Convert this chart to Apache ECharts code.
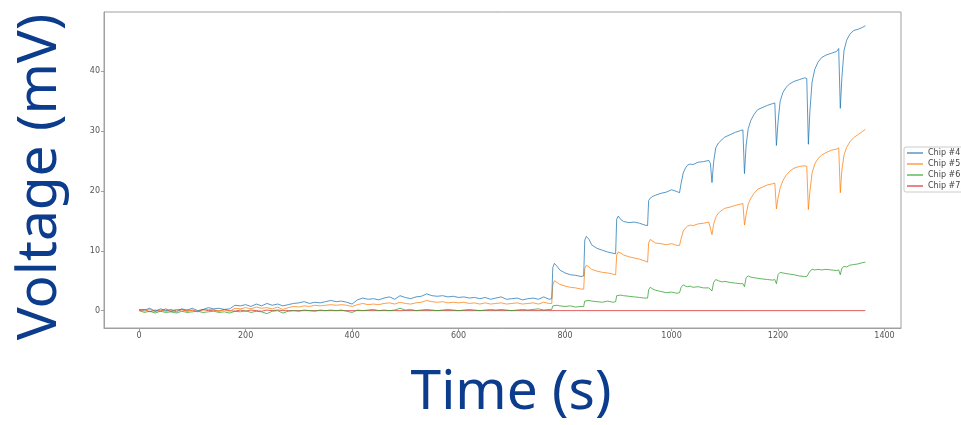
<!DOCTYPE html>
<html>
<head>
<meta charset="utf-8">
<script src="https://cdn.jsdelivr.net/npm/echarts@6/dist/echarts.min.js"></script>
<style>
html,body{margin:0;padding:0;background:#fff;}
#chart{width:961px;height:425px;}
</style>
</head>
<body>
<div id="chart"></div>
<script>
// Time (s) shared by chips #4, #5, #6
const times = [
  0,10,20,30,40,50,60,70,80,90,
  100,110,120,130,140,150,160,170,180,190,
  200,210,220,230,240,250,260,270,280,290,
  300,310,320,330,340,350,360,370,380,390,
  400,410,420,430,440,450,460,470,480,490,
  500,510,520,530,540,550,560,570,580,590,
  600,610,620,630,640,650,660,670,680,690,
  700,710,720,730,740,750,760,770,
  775,777,780,785,790,800,810,820,830,835,
  837,840,845,850,860,870,880,890,895,
  897,900,905,910,920,930,940,950,955,
  957,960,965,970,980,990,1000,1010,1015,
  1018,1022,1026,1030,1035,1040,1050,1060,1070,1073,
  1076,1079,1083,1088,1095,1100,1110,1120,1130,1134,
  1137,1140,1144,1149,1155,1162,1170,1180,1190,1194,
  1197,1200,1204,1209,1215,1222,1230,1240,1250,1254,
  1257,1260,1264,1269,1275,1282,1290,1300,1310,1314,
  1317,1320,1324,1329,1335,1342,1350,1358,1364
];
const chip4 = [
  0.2,0.1,0.4,-0.1,0.3,0.0,0.2,-0.2,0.3,0.1,
  0.4,0.0,0.2,0.5,0.3,0.4,0.2,0.3,0.9,0.8,
  1.0,0.7,1.1,0.8,1.2,0.9,1.1,0.8,1.0,1.2,
  1.3,1.5,1.2,1.4,1.3,1.5,1.7,1.5,1.6,1.4,
  1.1,1.8,2.1,1.9,2.0,1.8,2.1,2.3,1.9,2.5,
  2.2,2.0,2.3,2.4,2.8,2.5,2.4,2.5,2.3,2.4,
  2.2,2.3,2.1,2.2,2.0,2.2,1.9,2.1,2.3,1.9,
  2.0,2.1,1.8,2.0,2.1,1.9,2.3,1.9,
  2.0,7.2,7.9,7.4,6.8,6.3,6.0,5.9,5.7,5.8,
  11.8,12.4,11.9,11.0,10.4,10.1,9.8,9.6,9.5,
  15.3,15.8,15.2,14.9,14.7,14.8,14.6,14.3,14.2,
  18.4,18.8,19.1,19.3,19.6,19.8,20.2,19.9,19.7,
  21.3,23.0,23.8,24.3,24.5,24.4,24.8,24.9,25.1,24.6,
  21.4,24.8,27.2,28.0,28.6,29.0,29.4,29.8,30.1,30.2,
  22.9,27.5,30.4,31.8,32.8,33.6,33.9,34.3,34.6,34.7,
  27.6,31.5,35.0,36.4,37.3,37.9,38.3,38.6,38.9,38.8,
  27.8,33.5,38.2,40.3,41.5,42.3,42.7,43.0,43.3,43.8,
  33.8,39.0,43.5,45.2,46.2,46.8,47.0,47.3,47.6
];
const chip5 = [
  0.1,-0.1,0.2,-0.2,0.1,-0.1,0.0,0.2,-0.1,0.1,
  0.0,-0.1,0.1,0.2,0.1,0.0,0.1,-0.1,0.4,0.3,
  0.5,0.3,0.6,0.4,0.5,0.3,0.6,0.2,0.5,0.7,
  0.6,0.8,0.7,0.9,0.8,0.9,1.0,0.9,1.0,0.9,
  0.7,1.0,1.2,1.0,1.1,1.0,1.2,1.3,1.1,1.4,
  1.2,1.1,1.3,1.4,1.7,1.5,1.4,1.5,1.3,1.4,
  1.3,1.4,1.2,1.3,1.1,1.3,1.1,1.2,1.3,1.1,
  1.2,1.3,1.1,1.2,1.3,1.1,1.4,1.2,
  1.2,4.3,5.0,4.7,4.4,4.1,3.9,3.8,3.6,3.6,
  7.0,7.6,7.3,6.9,6.6,6.4,6.3,6.1,6.0,
  9.3,9.8,9.6,9.3,9.0,8.8,8.6,8.3,8.1,
  11.3,11.9,11.6,11.3,11.2,11.0,11.2,10.9,10.9,
  12.0,13.3,13.8,14.1,14.3,14.2,14.5,14.6,14.8,14.5,
  12.7,14.4,15.6,16.3,16.8,17.1,17.3,17.6,17.8,17.9,
  14.3,16.0,17.8,18.8,19.6,20.3,20.6,21.0,21.2,21.3,
  17.0,18.8,20.5,21.7,22.6,23.3,23.8,24.1,24.2,24.1,
  16.9,20.0,23.0,24.5,25.4,26.0,26.4,26.8,27.0,27.2,
  19.7,23.5,26.0,27.3,28.2,28.9,29.4,29.9,30.3
];
const chip6 = [
  0.0,-0.3,-0.1,-0.4,-0.1,-0.3,-0.2,-0.4,-0.1,-0.3,
  -0.2,-0.1,-0.3,-0.2,-0.1,-0.3,-0.2,-0.4,-0.1,-0.2,
  0.0,-0.3,-0.1,-0.2,-0.5,-0.1,0.0,-0.4,-0.1,0.0,
  -0.1,0.1,0.0,-0.1,0.1,0.0,0.1,0.0,0.1,-0.1,
  -0.3,0.1,0.0,0.1,0.2,0.0,0.1,0.0,0.1,0.4,
  0.1,0.2,0.0,0.1,0.2,0.1,0.0,0.1,0.2,0.1,
  0.0,0.1,0.2,0.1,0.0,0.1,0.2,0.1,0.2,0.1,
  0.0,0.1,0.2,0.1,0.2,0.3,0.1,0.2,
  0.2,0.8,1.0,0.9,0.8,0.7,0.8,0.6,0.7,0.7,
  1.6,1.9,1.7,1.6,1.5,1.4,1.6,1.4,1.5,
  2.5,2.8,2.6,2.5,2.4,2.3,2.2,2.1,2.1,
  3.5,3.9,3.6,3.4,3.2,3.0,3.1,2.9,3.0,
  3.9,4.3,4.1,4.0,4.1,3.9,4.0,3.8,3.8,3.9,
  3.3,4.7,5.2,5.0,4.8,4.9,4.7,4.6,4.5,4.5,
  4.0,5.5,5.8,5.6,5.5,5.4,5.3,5.2,5.1,5.2,
  4.5,6.0,6.4,6.3,6.2,6.1,6.0,5.8,5.7,5.7,
  5.4,6.6,6.9,6.8,6.9,6.8,6.9,6.8,6.7,6.8,
  6.0,7.1,7.4,7.3,7.6,7.7,7.8,8.0,8.1
];
// Chip #7: small noise early, then flat at zero
const chip7Times = [
  0,10,20,30,40,50,60,70,80,90,
  100,110,120,130,140,150,160,170,180,190,
  200,210,220,230,240,250,260,270,280,1364
];
const chip7 = [
  0.0,0.2,-0.2,0.1,-0.1,0.3,-0.2,0.1,0.2,-0.1,
  0.1,-0.2,0.2,0.0,0.1,-0.1,0.2,0.0,-0.1,0.1,
  -0.1,0.1,0.0,-0.1,0.1,0.0,0.1,0.0,0.0,0.0
];
const seriesNames = ['Chip #4','Chip #5','Chip #6','Chip #7'];
const xTicks = [0,200,400,600,800,1000,1200,1400];
const yTicks = [0,10,20,30,40];
const colors = ['#1f77b4','#ff7f0e','#2ca02c','#d62728'];

const chart = echarts.init(document.getElementById('chart'));
const zip = (xs, ys) => xs.map((x, i) => [x, ys[i]]);
const seriesData = [zip(times, chip4), zip(times, chip5), zip(times, chip6), zip(chip7Times, chip7)];
const axisColor = '#a0a0a0';
const labelStyle = {color:'#555', fontSize:8, fontFamily:'DejaVu Sans', formatter:(v) => String(v)};
chart.setOption({
  animation:false,
  backgroundColor:'#fff',
  color:colors,
  grid:{left:104, right:60, top:12, bottom:97, show:true, borderColor:axisColor, borderWidth:1, backgroundColor:'transparent'},
  xAxis:{
    type:'value', min:-66, max:1431,
    axisLine:{show:true, onZero:false, lineStyle:{color:axisColor}},
    axisTick:{show:true, length:3, lineStyle:{color:axisColor}, customValues:xTicks},
    axisLabel:Object.assign({margin:4, customValues:xTicks}, labelStyle),
    splitLine:{show:false}
  },
  yAxis:{
    type:'value', min:-2.9, max:49.9,
    axisLine:{show:true, onZero:false, lineStyle:{color:axisColor}},
    axisTick:{show:true, length:3, lineStyle:{color:axisColor}, customValues:yTicks},
    axisLabel:Object.assign({margin:4, customValues:yTicks}, labelStyle),
    splitLine:{show:false}
  },
  legend:{
    orient:'vertical', left:904, top:147,
    data:seriesNames,
    icon:'rect', itemWidth:16, itemHeight:1.5, itemGap:1,
    textStyle:{color:'#444', fontSize:8, fontFamily:'DejaVu Sans', lineHeight:10},
    padding:[1,6,1,3],
    borderColor:'#ccc', borderWidth:1, borderRadius:2,
    backgroundColor:'#fff'
  },
  graphic:[
    {type:'text', x:40, y:177, rotation:Math.PI/2,
     style:{text:'Voltage (mV)', font:'55px "Noto Sans"', fill:'#0c3c8c', align:'center', verticalAlign:'middle'}},
    {type:'text', x:511, y:393,
     style:{text:'Time (s)', font:'55px "Noto Sans"', fill:'#0c3c8c', align:'center', verticalAlign:'middle'}}
  ],
  series:seriesNames.map((name, i) => ({
    name:name, type:'line', data:seriesData[i],
    showSymbol:false, symbol:'none',
    lineStyle:{width:1, color:colors[i], opacity:0.75},
    itemStyle:{color:colors[i], opacity:0.75},
    z: i === 3 ? 1 : 2 + (3 - i)
  }))
});
</script>
</body>
</html>
